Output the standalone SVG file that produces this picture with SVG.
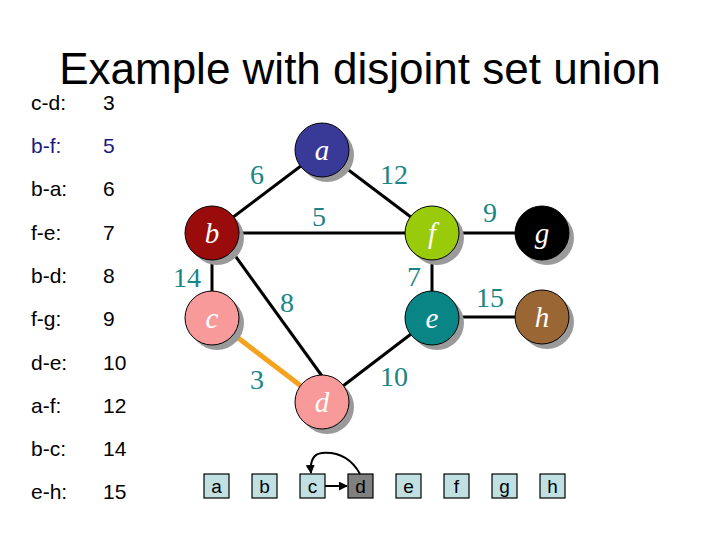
<svg xmlns="http://www.w3.org/2000/svg" width="720" height="540" viewBox="0 0 720 540">
<defs>
<marker id="ah" viewBox="0 0 10 10" refX="9" refY="5" markerWidth="4.5" markerHeight="4.5" orient="auto" markerUnits="strokeWidth">
<path d="M0,0 L10,5 L0,10 z" fill="#000"/>
</marker>
<style>
.title{font-family:"Liberation Sans",Arial,sans-serif;font-size:44px;fill:#000}
.lst{font-family:"Liberation Sans",Arial,sans-serif;font-size:21px;fill:#000}
.blue{fill:#1a1a80}
.edge{stroke:#000;stroke-width:3;fill:none}
.sel{stroke:#f5a21f;stroke-width:5;fill:none}
.w{font-family:"Liberation Serif","Times New Roman",serif;font-size:28px;fill:#1a8585;text-anchor:middle}
.shadow{fill:#9a9a9a}
.node{stroke:#000;stroke-width:1}
.nl{font-family:"Liberation Serif","Times New Roman",serif;font-style:italic;font-size:29px;fill:#fff;text-anchor:middle}
.box{fill:#c2e0e2;stroke:#000;stroke-width:1.2}
.bl{font-family:"Liberation Sans",Arial,sans-serif;font-size:19px;fill:#000;text-anchor:middle}
</style>
</defs>
<rect width="720" height="540" fill="#fff"/>
<text class="title" x="360" y="84" text-anchor="middle">Example with disjoint set union</text>
<g id="list">
<text class="lst" x="31" y="110">c-d:</text><text class="lst" x="103" y="110">3</text>
<text class="lst blue" x="31" y="153">b-f:</text><text class="lst blue" x="103" y="153">5</text>
<text class="lst" x="31" y="196">b-a:</text><text class="lst" x="103" y="196">6</text>
<text class="lst" x="31" y="240">f-e:</text><text class="lst" x="103" y="240">7</text>
<text class="lst" x="31" y="283">b-d:</text><text class="lst" x="103" y="283">8</text>
<text class="lst" x="31" y="326">f-g:</text><text class="lst" x="103" y="326">9</text>
<text class="lst" x="31" y="370">d-e:</text><text class="lst" x="103" y="370">10</text>
<text class="lst" x="31" y="413">a-f:</text><text class="lst" x="103" y="413">12</text>
<text class="lst" x="31" y="456">b-c:</text><text class="lst" x="103" y="456">14</text>
<text class="lst" x="31" y="499">e-h:</text><text class="lst" x="103" y="499">15</text>
</g>
<g id="connectors">
<line class="edge" x1="322" y1="150" x2="212" y2="233"/>
<line class="edge" x1="322" y1="150" x2="432" y2="233"/>
<line class="edge" x1="212" y1="233" x2="432" y2="233"/>
<line class="edge" x1="212" y1="233" x2="212" y2="318"/>
<line class="edge" x1="218" y1="232" x2="322" y2="376"/>
<line class="edge" x1="432" y1="233" x2="432" y2="318"/>
<line class="edge" x1="432" y1="233" x2="542" y2="233"/>
<line class="edge" x1="432" y1="317" x2="542" y2="317"/>
<line class="edge" x1="322" y1="402" x2="432" y2="318"/>
<line class="sel" x1="212" y1="318" x2="322" y2="402"/>
<text class="w" x="257" y="184">6</text>
<text class="w" x="394" y="184">12</text>
<text class="w" x="319" y="226">5</text>
<text class="w" x="187" y="287">14</text>
<text class="w" x="414" y="286">7</text>
<text class="w" x="287" y="312">8</text>
<text class="w" x="490" y="222">9</text>
<text class="w" x="490" y="307">15</text>
<text class="w" x="257" y="389">3</text>
<text class="w" x="394" y="386">10</text>
</g>
<g id="a"><circle class="shadow" cx="327" cy="155" r="27"/><circle class="node" cx="322" cy="150" r="27" fill="#393997"/><text class="nl" x="322" y="160">a</text></g>
<g id="b"><circle class="shadow" cx="217" cy="238" r="27"/><circle class="node" cx="212" cy="233" r="27" fill="#9a0b0b"/><text class="nl" x="212" y="243">b</text></g>
<g id="f"><circle class="shadow" cx="437" cy="238" r="27"/><circle class="node" cx="432" cy="233" r="27" fill="#9acb0a"/><text class="nl" x="432" y="243">f</text></g>
<g id="g"><circle class="shadow" cx="547" cy="238" r="27"/><circle class="node" cx="542" cy="233" r="27" fill="#000"/><text class="nl" x="542" y="243">g</text></g>
<g id="c"><circle class="shadow" cx="217" cy="323" r="27"/><circle class="node" cx="212" cy="318" r="27" fill="#f99a9a"/><text class="nl" x="212" y="328">c</text></g>
<g id="e"><circle class="shadow" cx="437" cy="323" r="27"/><circle class="node" cx="432" cy="318" r="27" fill="#0a8585"/><text class="nl" x="432" y="328">e</text></g>
<g id="h"><circle class="shadow" cx="547" cy="322" r="27"/><circle class="node" cx="542" cy="317" r="27" fill="#9a6633"/><text class="nl" x="542" y="327">h</text></g>
<g id="d"><circle class="shadow" cx="327" cy="407" r="27"/><circle class="node" cx="322" cy="402" r="27" fill="#f99a9a"/><text class="nl" x="322" y="412">d</text></g>
<g id="sets">
<g id="box-a"><rect class="box" x="204" y="474" width="25" height="24"/><text class="bl" x="216.5" y="493">a</text></g>
<g id="box-b"><rect class="box" x="252" y="474" width="25" height="24"/><text class="bl" x="264.5" y="493">b</text></g>
<g id="box-c"><rect class="box" x="300" y="474" width="25" height="24"/><text class="bl" x="312.5" y="493">c</text></g>
<g id="box-d"><rect class="box" x="348" y="474" width="25" height="24" style="fill:#808080"/><text class="bl" x="360.5" y="493">d</text></g>
<g id="box-e"><rect class="box" x="396" y="474" width="25" height="24"/><text class="bl" x="408.5" y="493">e</text></g>
<g id="box-f"><rect class="box" x="444" y="474" width="25" height="24"/><text class="bl" x="456.5" y="493">f</text></g>
<g id="box-g"><rect class="box" x="492" y="474" width="25" height="24"/><text class="bl" x="504.5" y="493">g</text></g>
<g id="box-h"><rect class="box" x="540" y="474" width="25" height="24"/><text class="bl" x="552.5" y="493">h</text></g>
</g>
<g id="set-connectors">
<line x1="325" y1="486" x2="347" y2="486" stroke="#000" stroke-width="2" marker-end="url(#ah)"/>
<path d="M360,474 C350,456 336,452 322,453 C312,454 310,462 311,473" stroke="#000" stroke-width="2" fill="none" marker-end="url(#ah)"/>
</g>
</svg>
